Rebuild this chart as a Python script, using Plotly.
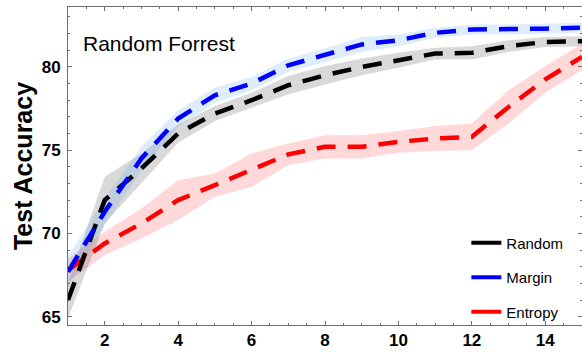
import plotly.graph_objects as go

# Number of labelled batches queried so far
steps = list(range(1, 16))

# Mean test accuracy (%) for each query strategy
random_acc = [66.0, 72.0, 73.9, 76.0, 77.2, 78.0, 78.9, 79.5, 80.0, 80.4, 80.8, 80.85, 81.25, 81.5, 81.55]
margin_acc = [67.7, 71.3, 74.5, 76.9, 78.3, 79.0, 80.1, 80.7, 81.35, 81.6, 82.05, 82.25, 82.25, 82.3, 82.35]
entropy_acc = [67.8, 69.4, 70.6, 72.0, 72.9, 73.8, 74.75, 75.2, 75.2, 75.5, 75.7, 75.8, 77.6, 79.25, 80.6]

# Half-width of the spread band around each mean
random_err = [1.1, 1.4, 0.9, 0.55, 0.45, 0.45, 0.55, 0.55, 0.5, 0.45, 0.35, 0.4, 0.35, 0.3, 0.3]
margin_err = [0.9, 0.8, 0.7, 0.5, 0.45, 0.4, 0.4, 0.4, 0.45, 0.35, 0.3, 0.3, 0.3, 0.3, 0.3]
entropy_err = [0.7, 0.7, 0.9, 1.2, 0.7, 1.0, 0.65, 0.7, 0.7, 0.65, 0.75, 0.8, 1.0, 0.8, 0.8]

y_ticks = [65, 70, 75, 80]
x_ticks = [2, 4, 6, 8, 10, 12, 14]

FONT = "Liberation Sans, Arial, Helvetica, sans-serif"
FRAME = "#707070"

# name, means, half-widths, line colour, band colour
series = [
    ("Entropy", entropy_acc, entropy_err, "#ff0000", "rgba(255,0,0,0.15)"),
    ("Random", random_acc, random_err, "#000000", "rgba(0,0,0,0.15)"),
    ("Margin", margin_acc, margin_err, "#0000ff", "rgba(90,165,240,0.2)"),
]
legend_order = ["Random", "Margin", "Entropy"]

fig = go.Figure()

# shaded spread bands
for name, mean, err, col, band in series:
    upper = [m + e for m, e in zip(mean, err)]
    lower = [m - e for m, e in zip(mean, err)]
    fig.add_trace(go.Scatter(
        x=steps + steps[::-1], y=upper + lower[::-1],
        fill="toself", fillcolor=band, line=dict(width=0),
        mode="lines", hoverinfo="skip", showlegend=False,
    ))

# dashed mean curves
for name, mean, err, col, band in series:
    fig.add_trace(go.Scatter(
        x=steps, y=mean, mode="lines", name=name,
        line=dict(color=col, width=4.5, dash="19px,12px"),
        showlegend=False,
    ))

# solid keys for the legend
colours = {s[0]: s[3] for s in series}
for name in legend_order:
    fig.add_trace(go.Scatter(
        x=[None], y=[None], mode="lines", name=name, legendgroup=name,
        line=dict(color=colours[name], width=4),
    ))

fig.add_annotation(
    text="Random Forrest", xref="paper", yref="paper",
    x=0.026, y=0.885, xanchor="left", yanchor="middle",
    showarrow=False, font=dict(family=FONT, size=21, color="black"),
)

axis_common = dict(
    showline=True, linecolor=FRAME, linewidth=1, mirror="ticks",
    ticks="inside", tickcolor=FRAME, ticklen=4, tickwidth=1,
    showgrid=False, zeroline=False,
    tickfont=dict(family=FONT, size=17, color="black", weight="bold"),
)

fig.update_xaxes(
    range=[1, 15], tickvals=x_ticks, ticklabelstandoff=0,
    minor=dict(dtick=0.5, tick0=0, ticks="inside", ticklen=2, tickcolor=FRAME),
    **axis_common,
)
fig.update_yaxes(
    range=[64.5, 83.6], tickvals=y_ticks, ticklabelstandoff=3,
    minor=dict(dtick=1, tick0=0, ticks="inside", ticklen=2, tickcolor=FRAME),
    title=dict(text="Test Accuracy", standoff=1,
               font=dict(family=FONT, size=25, color="black", weight="bold")),
    **axis_common,
)

fig.update_layout(
    width=582, height=352,
    margin=dict(l=68, r=0, t=7, b=27, autoexpand=False),
    paper_bgcolor="white", plot_bgcolor="white",
    legend=dict(
        x=0.775, y=0.31, xanchor="left", yanchor="top",
        bgcolor="rgba(0,0,0,0)", borderwidth=0,
        font=dict(family=FONT, size=15, color="black"),
        itemwidth=30, tracegroupgap=12,
    ),
)

fig.write_html("out.html")
